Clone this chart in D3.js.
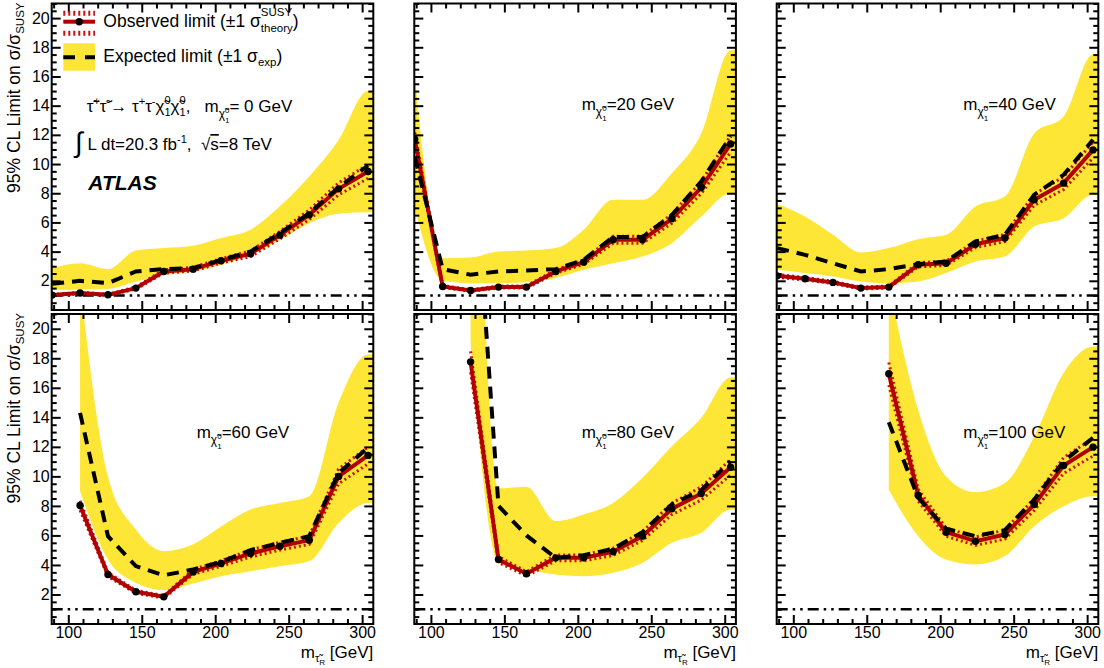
<!DOCTYPE html>
<html><head><meta charset="utf-8">
<script src="https://cdn.jsdelivr.net/npm/d3@7"></script>
<style>
body{margin:0;background:#fff;}
svg text{font-family:"Liberation Sans", Arial, Helvetica, sans-serif; white-space:pre;}
</style></head>
<body><svg id="c" width="1104" height="668"></svg>
<script>
// ---------------- DATA ----------------
const staumass = [89,108,127,146,165,185,204,224,244,264,284,304];
const theoryUnc = [0.04,0.04,0.04,0.045,0.045,0.045,0.045,0.05,0.05,0.05,0.05,0.05];
const neutralinoMass = [0,20,40,60,80,100];
const firstIndex = [0,0,0,1,2,4];   // first stau mass point of each panel

const obs_m0  = [1.02,1.16,1.04,1.50,2.64,2.80,3.37,3.85,5.13,6.52,8.30,9.49];
const exp_m0  = [1.80,2.00,1.84,2.64,2.80,2.87,3.43,4.00,5.26,6.63,8.40,9.90];
const up_m0   = [2.87,3.20,2.80,4.07,4.24,4.40,4.93,5.50,7.10,9.15,11.65,15.0];
const dn_m0   = [1.38,1.40,1.45,1.95,2.40,2.64,3.10,3.78,4.80,5.95,6.60,6.70];

const obs_m20 = [11.7,1.61,1.34,1.57,1.57,2.64,3.28,4.81,4.81,6.25,8.39,11.38];
const exp_m20 = [10.5,2.80,2.42,2.64,2.70,2.80,3.44,5.00,5.00,6.50,8.80,11.90];
const up_m20  = [16.1,3.55,3.60,4.00,4.07,4.24,5.50,7.55,7.55,9.37,12.10,17.8];
const dn_m20  = [7.0,2.00,1.84,1.84,1.90,2.19,2.75,3.20,3.67,4.58,6.40,8.00];

const obs_m40 = [2.34,2.14,1.89,1.50,1.57,3.10,3.20,4.50,4.93,7.55,8.69,10.97];
const exp_m40 = [4.24,3.78,3.20,2.64,2.80,3.14,3.33,4.70,5.15,7.90,9.26,11.66];
const up_m40  = [7.27,6.40,5.15,3.94,4.24,4.85,5.15,7.09,7.78,12.10,13.26,17.50];
const dn_m40  = [2.75,2.53,2.30,1.96,1.84,1.96,2.53,3.33,3.67,5.72,6.29,7.89];

const obs_m60 = [8.03,3.35,2.18,1.84,3.53,4.10,4.78,5.27,5.68,10.00,11.42];
const exp_m60 = [14.3,5.95,3.92,3.30,3.69,4.21,5.00,5.50,5.95,10.23,11.94];
const up_m60  = [23.0,10.0,6.40,4.93,5.40,6.60,7.75,8.20,8.66,15.00,18.26];
const dn_m60  = [9.00,4.37,2.79,2.29,2.74,3.24,3.58,3.92,4.26,6.85,8.20];

const obs_m80 = [17.76,4.37,3.40,4.48,4.48,4.89,5.95,7.80,8.84,10.62];
const exp_m80 = [35.0,8.0,6.0,4.48,4.66,5.09,6.22,8.10,9.07,11.03];
const up_m80  = [50.0,9.2,9.3,6.97,7.42,8.20,9.90,12.04,13.96,16.70];
const dn_m80  = [19.0,4.14,3.69,3.35,3.24,3.47,4.14,5.50,6.18,7.76];

const obs_m100 = [16.95,8.73,6.22,5.61,6.06,8.10,10.74,11.98];
const exp_m100 = [13.67,8.55,6.45,5.95,6.36,8.43,11.03,12.61];
const up_m100  = [23.0,14.5,10.0,8.93,9.55,12.70,17.00,18.80];
const dn_m100  = [9.10,5.95,4.37,4.03,4.60,6.63,7.98,8.66];

const xTicks = [100,150,200,250,300];
const yTicks = [2,4,6,8,10,12,14,16,18,20];
const xDomain = [88.7, 307.6];
const yDomain = [0, 21];

// ---------------- LAYOUT / STYLE ----------------
const colX = [51.7, 414.3, 776.7];
const panelW = 321.6;
const rows = [{bot:310, top:3.5}, {bot:624, top:314}];
const labelPos = [null,[167.4,106.5],[186.6,106.5],[145,124.3],[167.4,124.3],[186.6,124.3]];
const YELLOW = "#fde635", RED = "#b20000", RED2 = "#cc1010";

const obsAll = [obs_m0,obs_m20,obs_m40,obs_m60,obs_m80,obs_m100];
const expAll = [exp_m0,exp_m20,exp_m40,exp_m60,exp_m80,exp_m100];
const upAll  = [up_m0,up_m20,up_m40,up_m60,up_m80,up_m100];
const dnAll  = [dn_m0,dn_m20,dn_m40,dn_m60,dn_m80,dn_m100];

const svg = d3.select('#c');

function rich(parent, x, y, fs, segs) {
  const t = parent.append('text').attr('x', x).attr('y', y).attr('font-size', fs).attr('fill', '#000');
  let cur = 0, prevLen = 0;
  for (const s of segs) {
    const sh = s.sh || 0;
    const ts = t.append('tspan').text(s.t).attr('dy', sh - cur);
    if (s.fs) ts.attr('font-size', s.fs);
    let dx = s.dx || 0;
    if (s.back) dx -= prevLen;
    if (dx) ts.attr('dx', dx);
    if (s.style) ts.attr('style', s.style);
    cur = sh;
    prevLen = ts.node().getComputedTextLength();
  }
  return t;
}

const chiLabel = (txt) => [{t:'m'},{t:'χ\u0303',fs:12,sh:6},{t:'1',fs:8,sh:11},{t:'0',fs:8,sh:1,back:true},{t:txt,sh:0}];

neutralinoMass.forEach((mchi, i) => {
  const c = i % 3, r = Math.floor(i / 3);
  const x0 = colX[c], x1 = x0 + panelW;
  const R = rows[r];
  const x = d3.scaleLinear().domain(xDomain).range([x0, x1]);
  const y = d3.scaleLinear().domain(yDomain).range([R.bot, R.top]);
  const off = firstIndex[i];
  const pts = obsAll[i].map((o, k) => ({
    m: staumass[off + k], obs: o, exp: expAll[i][k], up: upAll[i][k], dn: dnAll[i][k], u: theoryUnc[off + k]
  }));
  const g = svg.append('g');
  const cid = 'clip' + i;
  g.append('clipPath').attr('id', cid).append('rect')
    .attr('x', x0).attr('y', R.top).attr('width', panelW).attr('height', R.bot - R.top);
  const p = g.append('g').attr('clip-path', `url(#${cid})`);

  const last = pts[pts.length - 1];
  const bandPts = pts.concat([{m: xDomain[1] + 2, up: last.up, dn: last.dn}]);
  p.append('path').datum(bandPts)
    .attr('d', d3.area().x(d => x(d.m)).y0(d => y(d.dn)).y1(d => y(d.up)).curve(d3.curveMonotoneX))
    .attr('fill', YELLOW);

  p.append('path').datum(xDomain)
    .attr('d', d3.line().x(d => x(d)).y(() => y(1)))
    .attr('stroke', '#000').attr('stroke-width', 2.5).attr('fill', 'none')
    .attr('stroke-dasharray', '11,5,2.5,5,2.5,5');

  const ln = (f) => d3.line().x(d => x(d.m)).y(d => y(f(d)));
  [d => d.obs * (1 + d.u), d => d.obs * (1 - d.u)].forEach(f => {
    p.append('path').datum(pts).attr('d', ln(f)).attr('fill', 'none')
      .attr('stroke', RED2).attr('stroke-width', 3).attr('stroke-dasharray', '2,3');
  });
  p.append('path').datum(pts).attr('d', ln(d => d.obs)).attr('fill', 'none')
    .attr('stroke', RED).attr('stroke-width', 4).attr('stroke-linejoin', 'round');
  p.append('path').datum(pts).attr('d', ln(d => d.exp)).attr('fill', 'none')
    .attr('stroke', '#000').attr('stroke-width', 4).attr('stroke-dasharray', '12,8');
  p.selectAll('circle').data(pts).join('circle')
    .attr('cx', d => x(d.m)).attr('cy', d => y(d.obs)).attr('r', 3.7).attr('fill', '#000');

  // axes (inward ticks)
  const xMinor = d3.range(90, 301, 10).filter(v => v % 50 !== 0);
  const yMinor = d3.range(0.5, 21.01, 0.5).filter(v => v % 2 !== 0);
  const style = (sel, showText) => {
    sel.select('.domain').remove();
    sel.selectAll('line').attr('stroke', '#000').attr('stroke-width', 2);
    sel.selectAll('text').attr('font-size', 16).attr('font-family', null).attr('fill', '#000');
    if (!showText) sel.selectAll('text').remove();
  };
  const addAxis = (axis, tx, ty, showText) => {
    g.append('g').attr('transform', `translate(${tx},${ty})`).call(axis).call(s => style(s, showText));
  };
  addAxis(d3.axisBottom(x).tickValues(xTicks).tickSize(-9).tickPadding(3).tickFormat(d3.format('d')), 0, R.bot, r === 1);
  addAxis(d3.axisBottom(x).tickValues(xMinor).tickSize(-5), 0, R.bot, false);
  addAxis(d3.axisTop(x).tickValues(xTicks).tickSize(-9), 0, R.top, false);
  addAxis(d3.axisTop(x).tickValues(xMinor).tickSize(-5), 0, R.top, false);
  addAxis(d3.axisLeft(y).tickValues(yTicks).tickSize(-9).tickPadding(2).tickFormat(d3.format('d')), x0, 0, c === 0);
  addAxis(d3.axisLeft(y).tickValues(yMinor).tickSize(-5), x0, 0, false);
  addAxis(d3.axisRight(y).tickValues(yTicks).tickSize(-9), x1, 0, false);
  addAxis(d3.axisRight(y).tickValues(yMinor).tickSize(-5), x1, 0, false);

  g.append('rect').attr('x', x0).attr('y', R.top).attr('width', panelW).attr('height', R.bot - R.top)
    .attr('fill', 'none').attr('stroke', '#000').attr('stroke-width', 2);

  if (labelPos[i]) {
    rich(g, x0 + labelPos[i][0], R.top + labelPos[i][1], 17, chiLabel('=' + mchi + ' GeV'));
  }
  if (c === 0) {
    rich(g, 0, 0, 17.5, [{t:'95% CL Limit on σ/σ'},{t:'SUSY',fs:11.5,sh:4}])
      .attr('text-anchor', 'end').attr('transform', `translate(20,${R.top - 1}) rotate(-90)`);
  }
  if (r === 1) {
    rich(g, x1, 658, 17, [{t:'m'},{t:'τ\u0303',fs:11,sh:4},{t:'R',fs:8,sh:7},{t:' [GeV]',sh:0}])
      .attr('text-anchor', 'end');
  }
});

// ---------------- LEGEND & ANNOTATIONS (top-left panel) ----------------
const L = svg.append('g');
[13.3, 33.3].forEach(yy => L.append('line').attr('x1', 63.3).attr('x2', 95).attr('y1', yy).attr('y2', yy)
  .attr('stroke', RED2).attr('stroke-width', 5).attr('stroke-dasharray', '2,3'));
L.append('line').attr('x1', 63.3).attr('x2', 95).attr('y1', 21.7).attr('y2', 21.7)
  .attr('stroke', RED).attr('stroke-width', 4);
L.append('circle').attr('cx', 79.2).attr('cy', 21.7).attr('r', 3.7).attr('fill', '#000');
L.append('rect').attr('x', 63.3).attr('y', 43.3).attr('width', 31.7).attr('height', 27.4).attr('fill', YELLOW);
L.append('line').attr('x1', 63.3).attr('x2', 95).attr('y1', 57.3).attr('y2', 57.3)
  .attr('stroke', '#000').attr('stroke-width', 4).attr('stroke-dasharray', '11.7,10');
rich(L, 103.3, 26.7, 17.5, [{t:'Observed limit (±1 σ'},{t:'SUSY',fs:11.5,sh:-10.5},{t:'theory',fs:11.5,sh:5,back:true},{t:')',sh:0}]);
rich(L, 103.3, 61.7, 17.5, [{t:'Expected limit (±1 σ'},{t:'exp',fs:11.5,sh:4},{t:')',sh:0}]);

rich(L, 86.7, 111.7, 17, [
  {t:'τ\u0303'},{t:'+',fs:11,sh:-7},{t:'τ\u0303',sh:0},{t:'-',fs:11,sh:-7},{t:'→ τ',sh:0},
  {t:'+',fs:11,sh:-7},{t:'τ',sh:0},{t:'-',fs:11,sh:-7},
  {t:'χ\u0303',sh:0},{t:'1',fs:11,sh:4},{t:'0',fs:11,sh:-8,back:true},
  {t:'χ\u0303',sh:0},{t:'1',fs:11,sh:4},{t:'0',fs:11,sh:-8,back:true},
  {t:',   m',sh:0},{t:'χ\u0303',fs:12,sh:6},{t:'1',fs:8,sh:11},{t:'0',fs:8,sh:1,back:true},{t:'= 0 GeV',sh:0}
]);
rich(L, 75, 150, 17, [
  {t:'∫',fs:28,sh:2},{t:' L dt=20.3 fb',sh:0},{t:'-1',fs:11,sh:-7},{t:',  √',sh:0},
  {t:'s',style:'text-decoration:overline'},{t:'=8 TeV'}
]);
L.append('text').attr('x', 88.3).attr('y', 190).attr('font-size', 21)
  .attr('font-weight', 'bold').attr('font-style', 'italic').text('ATLAS');
</script>
</body></html>
